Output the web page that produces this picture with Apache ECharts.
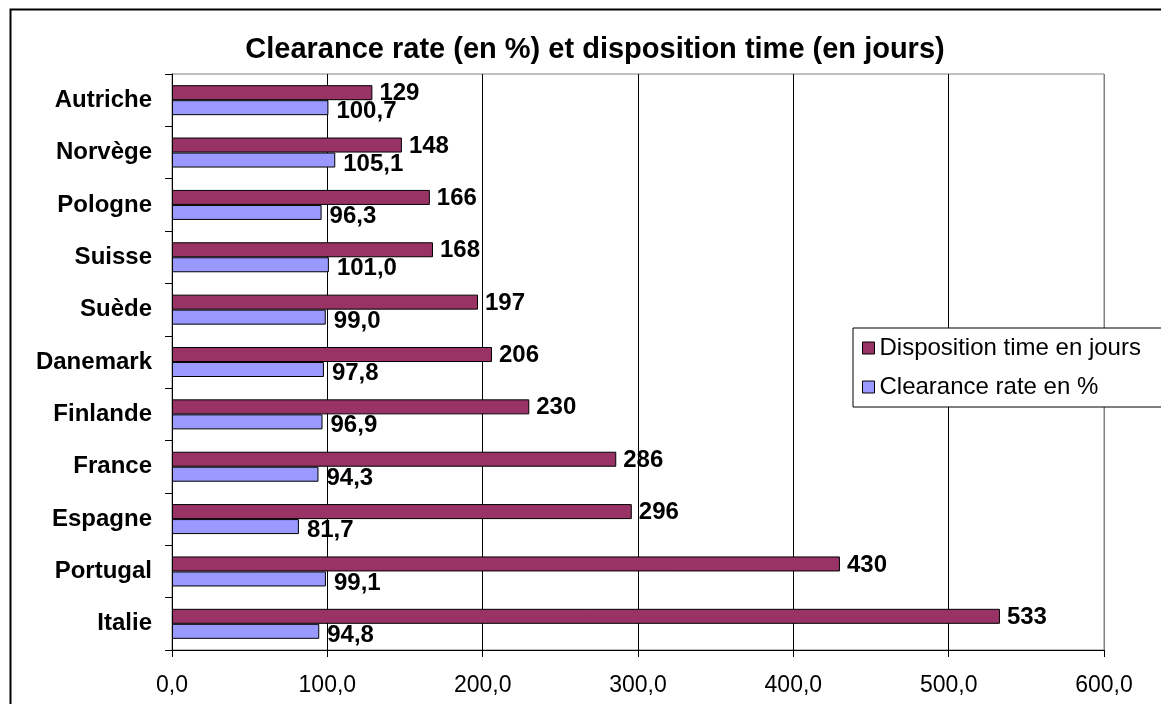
<!DOCTYPE html>
<html>
<head>
<meta charset="utf-8">
<script src="https://cdn.jsdelivr.net/npm/echarts@6/dist/echarts.min.js"></script>
<style>
  html, body { margin: 0; padding: 0; background: #fff; }
  #chart { width: 1161px; height: 704px; }
</style>
</head>
<body>
<div id="chart"></div>
<script>
// donnees
const pays = ['Autriche', 'Norvège', 'Pologne', 'Suisse', 'Suède', 'Danemark', 'Finlande', 'France', 'Espagne', 'Portugal', 'Italie']
const dispositionTime = [129, 148, 166, 168, 197, 206, 230, 286, 296, 430, 533]
const clearanceRate = [100.7, 105.1, 96.3, 101.0, 99.0, 97.8, 96.9, 94.3, 81.7, 99.1, 94.8]
const xTicks = [0, 100, 200, 300, 400, 500, 600]

const police = 'Liberation Sans, Arial, sans-serif'
const virgule = (v, d) => Number(v).toFixed(d).replace('.', ',')

const chart = echarts.init(document.getElementById('chart'))

const option = {
  animation: false,
  title: {
    text: 'Clearance rate (en %) et disposition time (en jours)',
    left: 590,
    textAlign: 'center',
    top: 30,
    textStyle: { fontFamily: police, fontSize: 29, fontWeight: 'bold', color: '#000' }
  },
  legend: {
    data: ['Disposition time en jours', 'Clearance rate en %'],
    orient: 'vertical',
    left: 853,
    top: 328,
    padding: [8, 22, 8, 9],
    itemGap: 15,
    itemWidth: 12,
    itemHeight: 12,
    itemTextGap: 13,
    icon: 'rect',
    itemStyle: { borderColor: '#000', borderWidth: 1 },
    borderColor: '#000',
    borderWidth: 1,
    backgroundColor: '#fff',
    textStyle: { fontFamily: police, fontSize: 24, color: '#000' }
  },
  graphic: [{
    type: 'rect',
    left: 8,
    top: 7,
    shape: { width: 1300, height: 800 },
    style: { fill: 'none', stroke: '#000', lineWidth: 2 },
    z: -1
  }],
  grid: {
    left: 172,
    right: 57,
    top: 74,
    bottom: 54,
    show: true,
    borderColor: '#808080',
    borderWidth: 1
  },
  xAxis: {
    type: 'value',
    min: xTicks[0],
    max: xTicks[xTicks.length - 1],
    interval: 100,
    axisLine: { show: true, lineStyle: { color: '#000', width: 1 } },
    axisTick: { show: true, length: 7, lineStyle: { color: '#000' } },
    splitLine: {
      show: true,
      lineStyle: { color: ['#000', '#000', '#000', '#000', '#000', '#000', '#808080'], width: 1 }
    },
    axisLabel: {
      margin: 24,
      fontFamily: police,
      fontSize: 23,
      color: '#000',
      formatter: v => virgule(v, 1)
    }
  },
  yAxis: {
    type: 'category',
    data: pays,
    inverse: true,
    axisLine: { show: true, lineStyle: { color: '#000', width: 1 } },
    axisTick: { show: true, length: 7, lineStyle: { color: '#000' } },
    axisLabel: {
      margin: 20,
      fontFamily: police,
      fontSize: 24,
      fontWeight: 'bold',
      color: '#000'
    }
  },
  series: [
    {
      name: 'Disposition time en jours',
      type: 'bar',
      data: dispositionTime,
      barWidth: 15,
      barGap: '0%',
      itemStyle: { color: '#993366', borderColor: '#000', borderWidth: 1 },
      label: {
        show: true,
        position: 'right',
        distance: 7,
        offset: [0, 1],
        fontFamily: police,
        fontSize: 24,
        fontWeight: 'bold',
        color: '#000',
        formatter: p => String(p.value)
      }
    },
    {
      name: 'Clearance rate en %',
      type: 'bar',
      data: clearanceRate,
      barWidth: 15,
      barGap: '0%',
      itemStyle: { color: '#9999FF', borderColor: '#000', borderWidth: 1 },
      label: {
        show: true,
        position: 'right',
        distance: 8,
        offset: [0, 4],
        fontFamily: police,
        fontSize: 24,
        fontWeight: 'bold',
        color: '#000',
        formatter: p => virgule(p.value, 1)
      }
    }
  ]
}

chart.setOption(option)
</script>
</body>
</html>
